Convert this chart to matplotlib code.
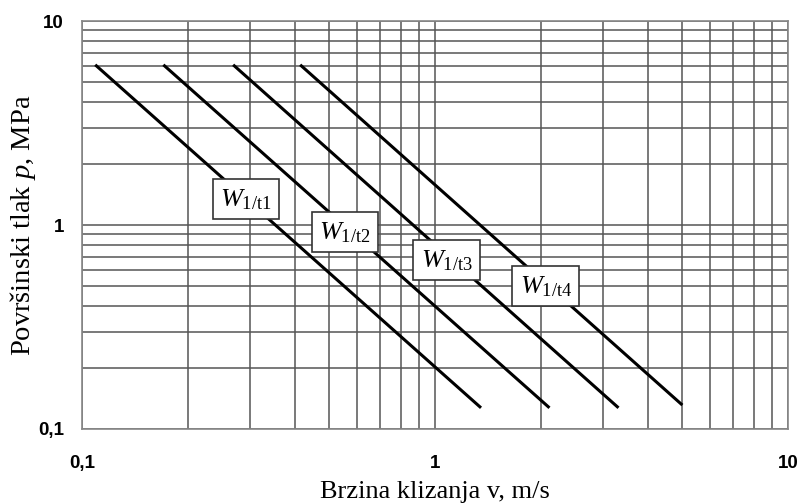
import matplotlib
matplotlib.use("Agg")
import matplotlib.pyplot as plt
from matplotlib.ticker import FixedLocator, FixedFormatter, LogLocator, NullFormatter

plt.rcParams['mathtext.fontset'] = 'custom'
plt.rcParams['mathtext.rm'] = 'Liberation Serif'
plt.rcParams['mathtext.it'] = 'Liberation Serif:italic'

# Data: each wear line from start (v, p) to end (v, p)
series = ["1/t1", "1/t2", "1/t3", "1/t4"]
v_start = [0.109, 0.170, 0.268, 0.415]
v_end = [1.35, 2.11, 3.31, 5.02]
p_start = [6.1, 6.1, 6.1, 6.1]
p_end = [0.127, 0.127, 0.127, 0.131]
label_v = [0.291, 0.556, 1.08, 2.06]
label_p = [1.34, 0.924, 0.674, 0.502]

tick_vals = [0.1, 1, 10]
tick_labels = ["0,1", "1", "10"]

fig = plt.figure(figsize=(8.03, 5.04), dpi=100)
ax = fig.add_axes([82/803, 1-429/504, (788-82)/803, (429-21)/504])
ax.set_xscale('log')
ax.set_yscale('log')
ax.set_xlim(0.1, 10)
ax.set_ylim(0.1, 10)

ax.xaxis.set_major_locator(FixedLocator(tick_vals))
ax.xaxis.set_major_formatter(FixedFormatter(tick_labels))
ax.yaxis.set_major_locator(FixedLocator(tick_vals))
ax.yaxis.set_major_formatter(FixedFormatter(tick_labels))
ax.xaxis.set_minor_locator(LogLocator(base=10, subs=range(2, 10)))
ax.yaxis.set_minor_locator(LogLocator(base=10, subs=range(2, 10)))
ax.xaxis.set_minor_formatter(NullFormatter())
ax.yaxis.set_minor_formatter(NullFormatter())
ax.grid(True, which='both', color='#555555', lw=1.1)
ax.tick_params(which='both', length=0)
ax.tick_params(axis='x', pad=19)
ax.tick_params(axis='y', pad=13)
for lab in ax.get_xticklabels() + ax.get_yticklabels():
    lab.set_fontfamily('Liberation Sans')
    lab.set_fontweight('bold')
    lab.set_fontsize(13.5)
for s in ax.spines.values():
    s.set_color('#888888')
    s.set_linewidth(1.2)

for vs, ve, ps, pe in zip(v_start, v_end, p_start, p_end):
    ax.plot([vs, ve], [ps, pe], color='black', lw=2.2, solid_capstyle='butt', zorder=3)

for name, lv, lp in zip(series, label_v, label_p):
    ax.text(lv, lp, r'$W_{\mathrm{' + name + '}}$', fontsize=19, ha='center', va='center',
            zorder=5,
            bbox=dict(boxstyle='square,pad=0.28', facecolor='white', edgecolor='#333333', lw=1.2))

ax.set_xlabel('Brzina klizanja v, m/s', fontfamily='Liberation Serif', fontsize=19, labelpad=6)
ax.set_ylabel(r'Površinski tlak $p$, MPa', fontfamily='Liberation Serif', fontsize=20.5)
ax.yaxis.set_label_coords(-0.062, 0.5)

fig.savefig('out.png', dpi=100)
